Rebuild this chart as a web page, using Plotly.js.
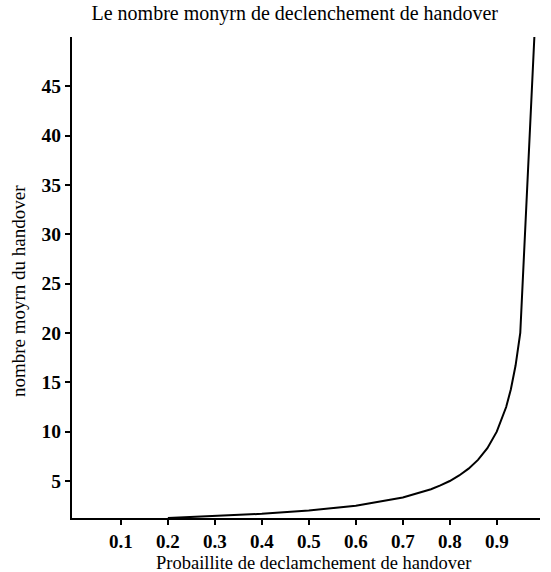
<!DOCTYPE html>
<html>
<head>
<meta charset="utf-8">
<script src="https://cdn.plot.ly/plotly-3.0.1.min.js"></script>
<style>html,body{margin:0;padding:0;background:#fff;}#chart{width:551px;height:572px;}</style>
</head>
<body>
<div id="chart"></div>
<script>
const probabilite = [0.2, 0.3, 0.4, 0.5, 0.6, 0.7, 0.76, 0.78, 0.8, 0.82, 0.84, 0.86, 0.88, 0.9, 0.92, 0.93, 0.94, 0.95, 0.98];
const nombreMoyen = [1.25, 1.43, 1.67, 2.0, 2.5, 3.33, 4.17, 4.55, 5.0, 5.56, 6.25, 7.14, 8.33, 10.0, 12.5, 14.3, 16.7, 20.0, 50.0];
const xTicks = [0.1, 0.2, 0.3, 0.4, 0.5, 0.6, 0.7, 0.8, 0.9];
const yTicks = [5, 10, 15, 20, 25, 30, 35, 40, 45];

const serif = "'Liberation Serif', 'Times New Roman', serif";
Plotly.newPlot('chart', [{
  x: probabilite, y: nombreMoyen, type: 'scatter', mode: 'lines',
  line: {color: '#000', width: 2}, hoverinfo: 'skip'
}], {
  width: 551, height: 572,
  margin: {l: 72, r: 11, t: 37, b: 54},
  paper_bgcolor: '#fff', plot_bgcolor: '#fff',
  showlegend: false,
  title: {text: 'Le nombre monyrn de declenchement de handover', font: {family: serif, size: 20, color: '#000'}, x: 0.535, xanchor: 'center', y: 0.99, yanchor: 'top'},
  xaxis: {
    range: [-0.004, 0.992], tickvals: xTicks, ticktext: xTicks.map(v => v.toFixed(1)),
    showgrid: false, zeroline: false, showline: true, linecolor: '#000', linewidth: 2,
    ticks: 'outside', ticklen: 5, tickwidth: 2, tickcolor: '#000',
    tickfont: {family: serif, size: 19, color: '#000', weight: 'bold'}
  },
  yaxis: {
    range: [1.25, 50], tickvals: yTicks, ticktext: yTicks.map(String),
    showgrid: false, zeroline: false, showline: true, linecolor: '#000', linewidth: 2,
    ticks: 'outside', ticklen: 5, tickwidth: 2, tickcolor: '#000',
    tickfont: {family: serif, size: 19.5, color: '#000', weight: 'bold'}
  },
  annotations: [
    {text: 'Probaillite de declamchement de handover', xref: 'paper', yref: 'paper', x: 0.516, y: -0.093,
     xanchor: 'center', yanchor: 'middle', showarrow: false, font: {family: serif, size: 18.5, color: '#000'}},
    {text: 'nombre moyrn du handover', xref: 'paper', yref: 'paper', x: -0.113, y: 0.472, textangle: -90,
     xanchor: 'center', yanchor: 'middle', showarrow: false, font: {family: serif, size: 19, color: '#000'}}
  ]
}, {displayModeBar: false, staticPlot: true});
</script>
</body>
</html>
